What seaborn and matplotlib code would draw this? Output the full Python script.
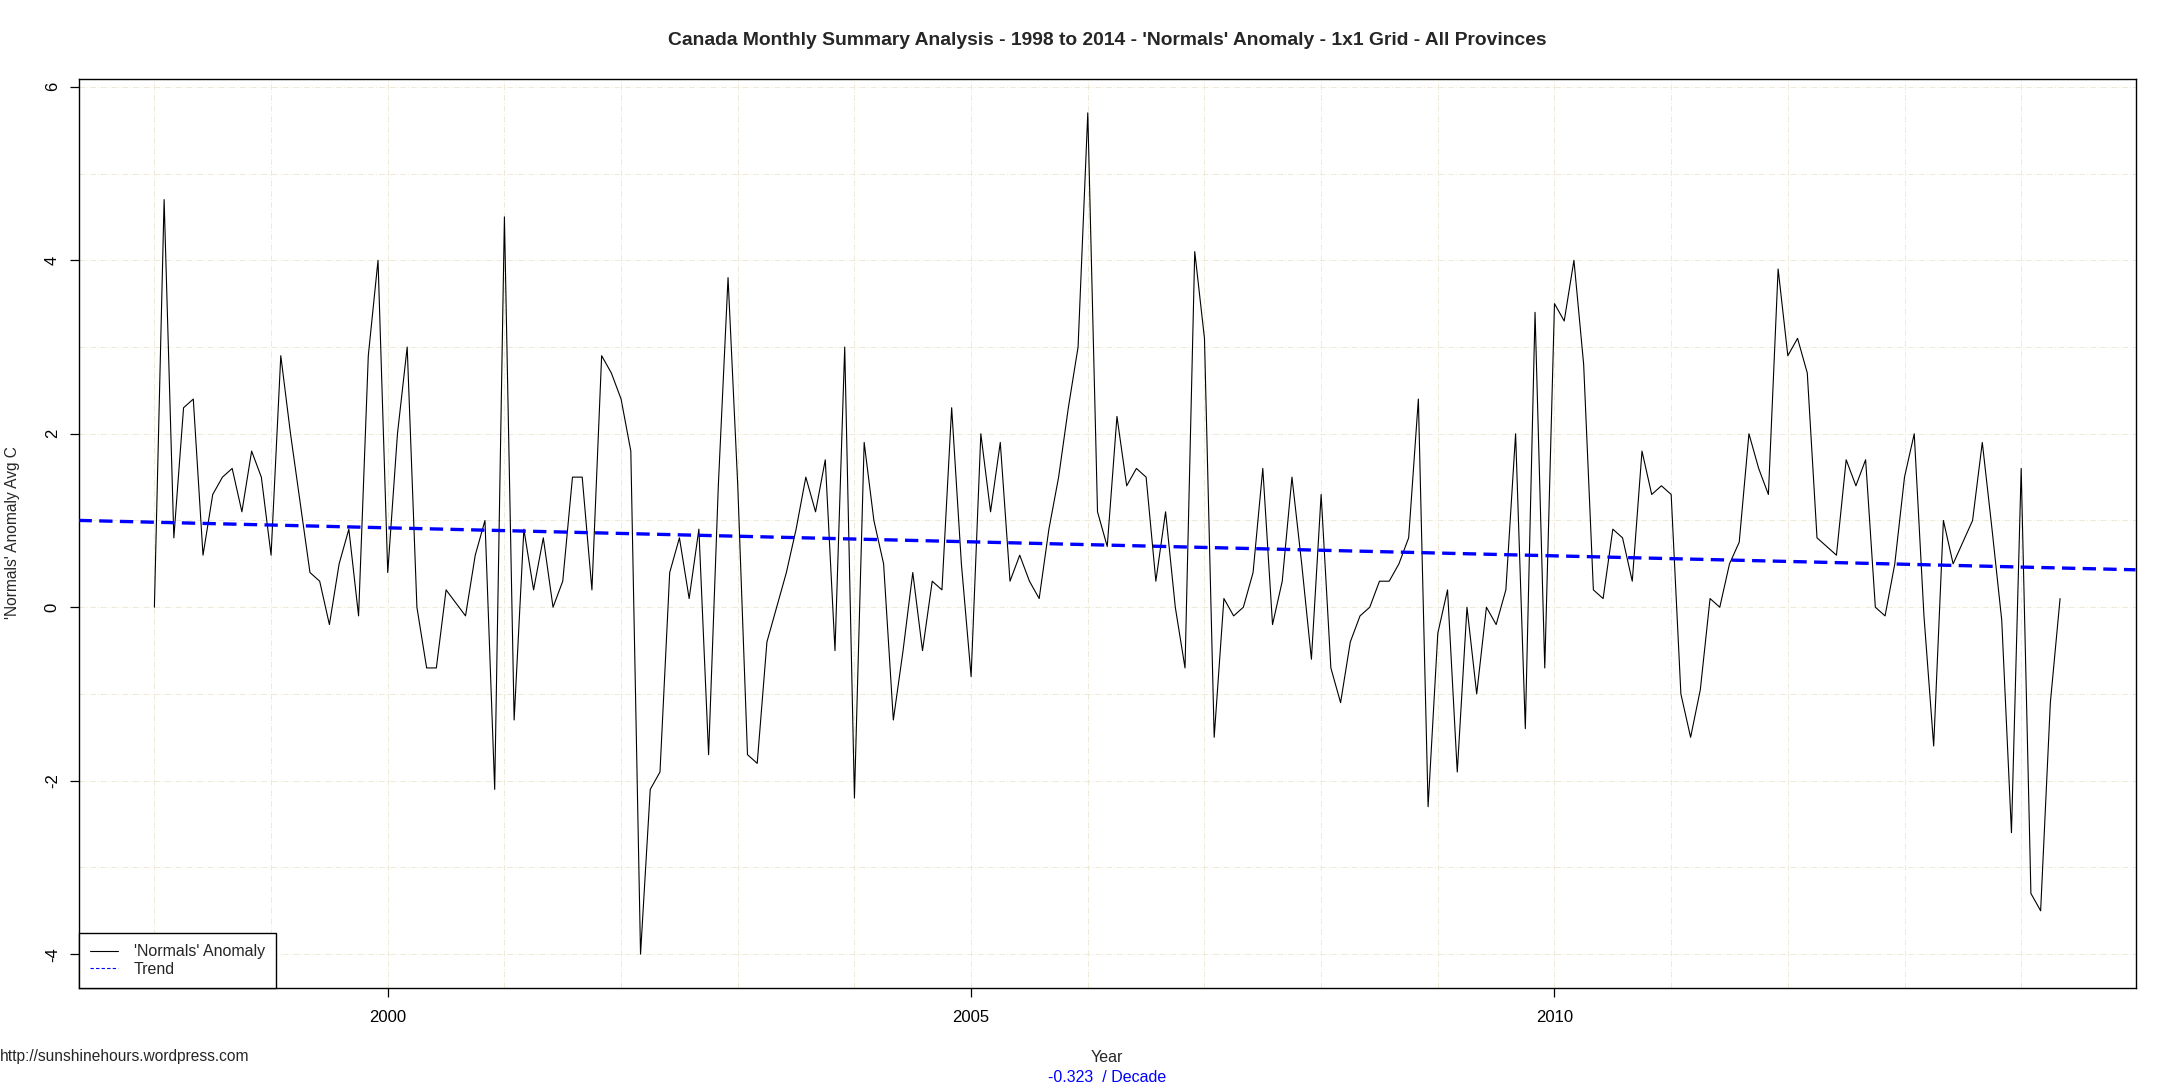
import numpy as np
import pandas as pd
import matplotlib
matplotlib.use('Agg')
import matplotlib.pyplot as plt
from matplotlib.lines import Line2D
import seaborn as sns

# monthly 'Normals' anomaly, Jan 1998 .. May 2014
anom_1998 = [0.0, 4.7, 0.8, 2.3, 2.4, 0.6, 1.3, 1.5, 1.6, 1.1, 1.8, 1.5]
anom_1999 = [0.6, 2.9, 2.0, 1.2, 0.4, 0.3, -0.2, 0.5, 0.9, -0.1, 2.9, 4.0]
anom_2000 = [0.4, 2.0, 3.0, 0.0, -0.7, -0.7, 0.2, 0.05, -0.1, 0.6, 1.0, -2.1]
anom_2001 = [4.5, -1.3, 0.9, 0.2, 0.8, 0.0, 0.3, 1.5, 1.5, 0.2, 2.9, 2.7]
anom_2002 = [2.4, 1.8, -4.0, -2.1, -1.9, 0.4, 0.8, 0.1, 0.9, -1.7, 1.4, 3.8]
anom_2003 = [1.4, -1.7, -1.8, -0.4, 0.0, 0.4, 0.9, 1.5, 1.1, 1.7, -0.5, 3.0]
anom_2004 = [-2.2, 1.9, 1.0, 0.5, -1.3, -0.5, 0.4, -0.5, 0.3, 0.2, 2.3, 0.5]
anom_2005 = [-0.8, 2.0, 1.1, 1.9, 0.3, 0.6, 0.3, 0.1, 0.9, 1.5, 2.3, 3.0]
anom_2006 = [5.7, 1.1, 0.7, 2.2, 1.4, 1.6, 1.5, 0.3, 1.1, 0.0, -0.7, 4.1]
anom_2007 = [3.1, -1.5, 0.1, -0.1, 0.0, 0.4, 1.6, -0.2, 0.3, 1.5, 0.5, -0.6]
anom_2008 = [1.3, -0.7, -1.1, -0.4, -0.1, 0.0, 0.3, 0.3, 0.5, 0.8, 2.4, -2.3]
anom_2009 = [-0.3, 0.2, -1.9, 0.0, -1.0, 0.0, -0.2, 0.2, 2.0, -1.4, 3.4, -0.7]
anom_2010 = [3.5, 3.3, 4.0, 2.8, 0.2, 0.1, 0.9, 0.8, 0.3, 1.8, 1.3, 1.4]
anom_2011 = [1.3, -1.0, -1.5, -0.95, 0.1, 0.0, 0.5, 0.75, 2.0, 1.6, 1.3, 3.9]
anom_2012 = [2.9, 3.1, 2.7, 0.8, 0.7, 0.6, 1.7, 1.4, 1.7, 0.0, -0.1, 0.5]
anom_2013 = [1.5, 2.0, -0.1, -1.6, 1.0, 0.5, 0.75, 1.0, 1.9, 0.9, -0.15, -2.6]
anom_2014 = [1.6, -3.3, -3.5, -1.1, 0.1]

# trend line (value at 1998.0 and slope per year)
trend_at_1998 = 0.98
trend_slope = -0.0323
trend_text = "-0.323  / Decade"

x_ticks = [2000, 2005, 2010]
y_ticks = [-4, -2, 0, 2, 4, 6]

anomaly = (anom_1998 + anom_1999 + anom_2000 + anom_2001 + anom_2002 + anom_2003
           + anom_2004 + anom_2005 + anom_2006 + anom_2007 + anom_2008 + anom_2009
           + anom_2010 + anom_2011 + anom_2012 + anom_2013 + anom_2014)
months = pd.date_range("1998-01-01", periods=len(anomaly), freq="MS")
df = pd.DataFrame({"Year": months.year + (months.month - 1) / 12.0,
                   "Anomaly": anomaly})

sns.set_style("white")
plt.rcParams['font.family'] = ['Liberation Sans', 'DejaVu Sans']

fig = plt.figure(figsize=(21.76, 10.87), dpi=100)
ax = fig.add_axes([0.0361, 0.0911, 0.9453, 0.8362])

grid_col = "#efead6"
for yr in range(1998, 2015):
    ax.axvline(yr, color=grid_col, lw=0.7, ls=(0, (6, 2, 1, 2)), zorder=0)
for v in range(-4, 7):
    ax.axhline(v, color=grid_col, lw=0.7, ls=(0, (6, 2, 1, 2)), zorder=0)

sns.lineplot(data=df, x="Year", y="Anomaly", ax=ax, color="black",
             linewidth=0.8, zorder=3)
ax.axline((1998, trend_at_1998), slope=trend_slope, color="#0000ff",
          linewidth=2.4, dashes=(4, 2.2), zorder=4)

ax.set_xlim(1997.35, 2014.98)
ax.set_ylim(-4.39, 6.09)
ax.set_xticks(x_ticks)
ax.set_yticks(y_ticks)
ax.set_yticklabels([str(t) for t in y_ticks], rotation=90, va="center")
ax.tick_params(axis="both", direction="out", length=6.5, width=0.9,
               labelsize=12, colors="black", left=True, bottom=True)
ax.tick_params(axis="x", pad=9)
ax.tick_params(axis="y", pad=7)
for s in ax.spines.values():
    s.set_color("black")
    s.set_linewidth(1.0)

ax.set_xlabel("")
ax.set_ylabel("")
fig.text(0.5087, 0.963, "Canada Monthly Summary Analysis - 1998 to 2014 - 'Normals' Anomaly - 1x1 Grid - All Provinces",
         ha="center", va="center", fontsize=13.9, fontweight="bold")
fig.text(0.5087, 1 - 1057 / 1087, "Year", ha="center", va="center", fontsize=11.5)
fig.text(0.5087, 1 - 1077 / 1087, trend_text, ha="center", va="center",
         fontsize=11.5, color="#0000ff")
fig.text(0.0, 1 - 1057 / 1087, "http://sunshinehours.wordpress.com",
         ha="left", va="center", fontsize=11.2)
fig.text(13 / 2176, 1 - 533 / 1087, "'Normals' Anomaly Avg C", ha="center",
         va="center", rotation=90, fontsize=11.2)

handles = [Line2D([], [], color="black", lw=0.8),
           Line2D([], [], color="#0000ff", lw=0.8, ls=(0, (3, 2)))]
leg = ax.legend(handles, ["'Normals' Anomaly", "Trend"], loc="lower left",
                bbox_to_anchor=(0, 0), borderaxespad=0, fancybox=False,
                frameon=True, fontsize=11.5, handlelength=1.8, handletextpad=0.95,
                labelspacing=0.15, borderpad=0.7)
leg.get_frame().set_edgecolor("black")
leg.get_frame().set_linewidth(1.0)
leg.get_frame().set_alpha(1)

fig.savefig("out.png", dpi=100)
